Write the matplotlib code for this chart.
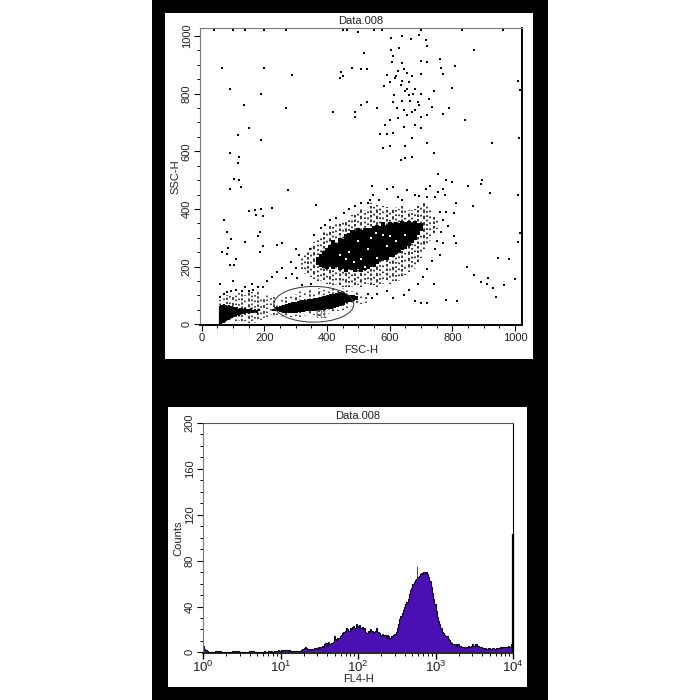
import matplotlib
matplotlib.use("Agg")
import numpy as np
import matplotlib.pyplot as plt
from matplotlib.patches import Rectangle, Ellipse
from matplotlib.ticker import MultipleLocator, LogLocator, NullFormatter

plt.rcParams['font.family'] = ['Liberation Sans', 'DejaVu Sans']
plt.rcParams['mathtext.fontset'] = 'custom'
plt.rcParams['mathtext.rm'] = 'Liberation Sans'

# dense parts of the dot plot, read as columns: x, low y, high y
core_x = [370, 380, 390, 400, 410, 420, 430, 440, 450, 460, 470, 480, 490, 500, 510, 520, 530, 540, 550, 560, 570, 580, 590, 600, 610, 620, 630, 640, 650, 660, 670, 680, 690, 700]
core_lo = [205, 198, 195, 192, 198, 192, 198, 188, 192, 182, 192, 188, 182, 192, 182, 188, 192, 198, 200, 208, 218, 222, 222, 232, 232, 242, 248, 258, 262, 272, 282, 292, 310, 325]
core_hi = [232, 245, 255, 265, 275, 292, 282, 300, 295, 312, 318, 328, 322, 332, 328, 332, 335, 332, 342, 345, 342, 355, 345, 355, 350, 355, 350, 358, 355, 358, 352, 358, 352, 350]

# speckled band round the main blob
mid_x = [320, 330, 340, 350, 360, 370, 380, 390, 400, 410, 420, 430, 440, 450, 460, 470, 480, 490, 500, 510, 520, 530, 540, 550, 560, 570, 580, 590, 600, 610, 620, 630, 640, 650, 660, 670, 680, 690, 700, 710, 720, 730, 740, 750]
mid_lo = [190, 175, 170, 165, 155, 150, 150, 145, 140, 140, 135, 135, 130, 130, 130, 130, 130, 130, 135, 130, 140, 140, 130, 135, 130, 140, 140, 145, 140, 150, 150, 150, 160, 170, 180, 200, 190, 210, 230, 260, 280, 290, 310, 330]
mid_hi = [235, 245, 255, 270, 285, 300, 310, 325, 330, 340, 345, 350, 355, 365, 365, 370, 380, 385, 395, 400, 395, 405, 420, 420, 415, 410, 410, 405, 400, 400, 405, 400, 410, 405, 395, 395, 400, 410, 420, 420, 410, 395, 380, 370]

low_x = [58, 62, 66, 70, 74, 78, 82, 86, 90, 94, 98, 102, 106, 110, 114, 118, 122, 128, 134, 140, 146, 152, 158, 164, 170, 176, 182]
low_lo = [2, 2, 3, 4, 8, 10, 14, 16, 18, 20, 22, 24, 28, 28, 30, 28, 30, 34, 36, 34, 38, 36, 40, 38, 42, 40, 44]
low_hi = [62, 66, 68, 70, 64, 68, 64, 66, 62, 60, 62, 58, 60, 55, 58, 54, 56, 56, 54, 56, 54, 52, 55, 50, 52, 50, 52]

tail_x = [60, 70, 80, 90, 100, 110, 120, 130, 140, 150, 160, 170, 180, 190, 200, 210, 220, 230]
tail_lo = [40, 50, 50, 50, 50, 10, 10, 5, 10, 5, 10, 5, 10, 15, 20, 25, 30, 25]
tail_hi = [85, 95, 100, 105, 100, 100, 110, 115, 100, 120, 110, 100, 110, 90, 95, 100, 90, 95]

r1_x = [232, 242, 252, 262, 272, 282, 292, 302, 312, 322, 332, 342, 352, 362, 372, 382, 392, 402, 412, 422, 432, 442, 452, 462, 472, 482, 492]
r1_lo = [46, 44, 42, 40, 38, 38, 40, 40, 42, 42, 44, 44, 46, 46, 48, 48, 50, 52, 54, 56, 60, 64, 68, 72, 76, 80, 84]
r1_hi = [54, 58, 62, 66, 70, 72, 76, 78, 82, 84, 84, 86, 88, 92, 92, 94, 96, 100, 104, 106, 108, 110, 108, 104, 102, 100, 98]

fringe_x = [240, 255, 270, 285, 300, 315, 330, 345, 360, 375, 390, 405, 420, 435, 450, 465, 480, 495, 510, 525]
fringe_lo = [30, 25, 25, 25, 28, 25, 28, 30, 30, 28, 32, 35, 40, 45, 50, 55, 60, 65, 70, 75]
fringe_hi = [70, 85, 95, 100, 105, 115, 110, 120, 115, 125, 120, 130, 125, 130, 125, 120, 115, 110, 105, 95]

top_pts = [(604, 992), (604, 951), (518, 942), (529, 884), (606, 911), (582, 826), (617, 853), (529, 772), (489, 720), (648, 808), (662, 842), (695, 760),
           (655, 872), (692, 1005), (668, 990), (720, 965), (715, 985), (630, 960), (610, 930), (640, 905), (625, 880), (645, 885), (590, 865), (700, 870),
           (600, 840), (635, 830), (660, 795), (675, 800), (615, 795), (640, 775), (665, 775), (690, 770), (622, 750), (645, 745), (672, 735), (700, 720), (735, 755),
           (770, 730), (790, 750), (720, 725), (655, 725), (625, 715), (600, 710), (585, 690), (600, 620), (580, 610), (590, 660), (612, 665), (650, 620), (672, 645),
           (645, 685), (680, 690), (700, 680), (720, 630), (635, 570), (650, 575), (670, 580), (740, 595), (570, 660), (490, 735), (510, 760), (450, 860), (440, 855), (445, 875),
           (510, 885), (480, 890), (420, 735), (560, 750), (770, 870), (765, 890), (808, 895), (800, 820), (870, 950), (1015, 812), (1010, 845), (840, 710), (1012, 645), (925, 630),
           (740, 810), (760, 920), (720, 910), (700, 915), (640, 1000), (500, 1015), (40, 1020), (100, 1020), (140, 1022), (200, 1022), (270, 1020), (450, 1020), (465, 1022), (700, 1021),
           (830, 1020), (960, 1021), (575, 1022), (550, 1021), (620, 860), (655, 815), (680, 815), (640, 845), (672, 860), (610, 770), (700, 800), (680, 745), (725, 780)]

side_pts = [(65, 888), (200, 888), (288, 865), (90, 815), (190, 800), (135, 760), (270, 752), (150, 680), (115, 655), (190, 640), (118, 580), (90, 595), (115, 560), (92, 470), (105, 505),
            (125, 475), (120, 500), (275, 465), (365, 415), (225, 402), (190, 400), (170, 395), (150, 392), (175, 378), (195, 375), (70, 360), (80, 320), (185, 320), (180, 305), (140, 285),
            (95, 295), (85, 265), (80, 245), (65, 250), (90, 205), (105, 205), (110, 225), (185, 250), (195, 270), (255, 280), (240, 275), (60, 140), (100, 150), (140, 130), (160, 140),
            (780, 500), (800, 495), (755, 520), (770, 470), (850, 480), (895, 500), (890, 485), (920, 455), (1010, 450), (780, 390), (805, 385), (810, 420), (865, 410), (1015, 315),
            (1010, 285), (805, 305), (810, 280), (845, 200), (945, 230), (980, 225), (1000, 155), (915, 160), (890, 145), (930, 125), (965, 135), (940, 95), (780, 85), (815, 80), (720, 75),
            (700, 72), (680, 80), (740, 140), (870, 170), (910, 140), (755, 460), (775, 450), (745, 440), (730, 480), (715, 470)]

halo_pts = [(538, 430), (545, 480), (548, 450), (590, 470), (610, 475), (625, 440), (640, 430), (655, 465), (680, 450), (695, 445), (720, 440), (760, 390), (770, 360), (785, 340), (765, 320),
            (750, 290), (770, 280), (745, 260), (760, 240), (735, 220), (720, 190), (705, 165), (690, 140), (660, 120), (645, 100), (610, 90), (590, 115), (560, 105), (545, 90), (530, 105),
            (300, 260), (285, 215), (300, 195), (290, 175), (270, 160), (255, 195), (240, 180), (225, 165), (210, 150), (195, 130), (305, 160), (320, 135), (350, 140), (345, 260), (310, 240),
            (360, 310), (380, 335), (395, 345), (410, 360), (430, 370), (455, 385), (470, 400), (490, 410), (510, 420), (530, 420), (565, 430), (165, 120), (180, 130), (150, 115), (130, 115),
            (110, 120), (95, 115), (80, 110), (70, 105), (60, 95)]

white_pts = [(470, 250), (500, 290), (530, 260), (560, 230), (590, 270), (620, 290), (650, 310), (540, 300), (460, 225), (580, 310), (510, 225), (440, 240), (600, 305), (520, 200), (485, 215), (555, 315)]

# histogram counts, one value per channel over the 4 decades
hist_counts = [6, 3, 2, 1, 0.5, 0, 0, 0, 0, 0, 1, 1, 0, 1, 1, 0,
               0, 0, 0, 0, 0, 0, 0, 0, 1, 1, 1, 0, 1, 1, 0, 0,
               0, 0, 0, 0, 0, 0, 1, 1, 1, 1, 0, 0, 0, 0, 0, 0,
               0, 0, 1, 0, 0, 0, 1, 0, 1, 0, 0, 1, 1, 1, 2, 1,
               2, 1, 2, 2, 2, 2, 1, 2, 1, 1, 1, 1, 1, 1, 1, 1,
               1, 2, 3, 4, 5, 4, 3, 3, 2, 3, 3, 3, 4, 4, 3, 5,
               4, 5, 6, 5, 7, 8, 6, 9, 7, 7, 8, 9, 14, 12, 11, 13,
               13, 14, 15, 17, 18, 19, 21, 20, 19, 21, 20, 22, 23, 21, 25, 23,
               22, 24, 21, 22, 20, 21, 18, 17, 19, 18, 20, 19, 17, 18, 19, 21,
               18, 17, 15, 14, 16, 15, 15, 13, 15, 14, 13, 14, 14, 15, 16, 18,
               21, 25, 29, 32, 34, 37, 40, 42, 44, 47, 51, 54, 56, 60, 61, 63,
               64, 66, 67, 68, 69, 68, 70, 69, 70, 68, 66, 62, 57, 52, 47, 42,
               36, 31, 27, 25, 21, 18, 17, 15, 14, 14, 12, 11, 9, 8, 7, 7,
               7, 6, 7, 6, 6, 5, 5, 5, 4, 5, 5, 6, 5, 6, 7, 6,
               6, 7, 6, 6, 5, 5, 4, 4, 3, 4, 3, 4, 4, 3, 3, 4,
               3, 3, 4, 4, 4, 5, 4, 5, 5, 5, 5, 5, 6, 5, 7, 5]
peak_spike = (583, 75)
end_spike = 103

W = H = 700.0

# uneven dashes so the speckle does not read as a grid
speckle = [(0, (1, 1.6)), (0.7, (1, 2.6)), (1.5, (1.5, 1.2)), (0.3, (1, 3.2)), (1.1, (2, 1.8))]


def fig_box(x0, y0, x1, y1):
    return [x0 / W, 1 - y1 / H, (x1 - x0) / W, (y1 - y0) / H]


fig = plt.figure(figsize=(7, 7), dpi=100, facecolor='white')
for box, col in [(fig_box(152, 0, 548, 700), 'black'), (fig_box(165, 13, 533, 359), 'white'), (fig_box(168, 407, 527, 687), 'white')]:
    fig.patches.append(Rectangle((box[0], box[1]), box[2], box[3], transform=fig.transFigure, facecolor=col, edgecolor='none', zorder=-5))

txt = '#222222'

# dot plot
ax = fig.add_axes(fig_box(200, 28, 522, 325))
ax.set_xlim(-5, 1022)
ax.set_ylim(-3, 1028)
ax.vlines(mid_x, mid_lo, mid_hi, color='#111111', linewidth=1.2, linestyles=speckle)
ax.vlines(tail_x, tail_lo, tail_hi, color='#111111', linewidth=1.1, linestyles=speckle)
ax.vlines(fringe_x, fringe_lo, fringe_hi, color='#111111', linewidth=1.1, linestyles=speckle)
ax.vlines(core_x, core_lo, core_hi, color='black', linewidth=2.9)
ax.vlines(low_x, low_lo, low_hi, color='black', linewidth=1.6)
ax.vlines(r1_x, r1_lo, r1_hi, color='black', linewidth=2.9)
for pts, s in [(top_pts, 1.3), (side_pts, 1.3), (halo_pts, 1.5)]:
    ax.scatter(*zip(*pts), s=s, marker='s', color='black', linewidths=0, clip_on=True)
ax.scatter(*zip(*white_pts), s=2.2, marker='s', color='white', linewidths=0, zorder=3)
ax.add_patch(Ellipse((358, 69), 255, 124, fill=False, edgecolor='#333333', linewidth=0.7, zorder=4))
ax.text(383, 30, 'R1', fontsize=7, color='#555555', ha='center', va='center', zorder=4)
ax.xaxis.set_major_locator(MultipleLocator(200))
ax.xaxis.set_minor_locator(MultipleLocator(50))
ax.yaxis.set_major_locator(MultipleLocator(200))
ax.yaxis.set_minor_locator(MultipleLocator(50))
ax.tick_params(axis='both', which='major', length=4, width=0.8, labelsize=8, labelcolor=txt, pad=2)
ax.tick_params(axis='both', which='minor', length=2.2, width=0.7)
for lab in ax.get_yticklabels():
    lab.set_rotation(90)
    lab.set_va('center')
ax.set_xlabel('FSC-H', fontsize=8, color=txt, labelpad=1)
ax.set_ylabel('SSC-H', fontsize=8, color=txt, labelpad=1)
ax.set_title('Data.008', fontsize=8, color=txt, pad=3)
ax.spines['left'].set_color('#777777')
ax.spines['top'].set_color('#777777')
ax.spines['right'].set_linewidth(1.4)
ax.spines['bottom'].set_linewidth(1.4)

# histogram
ax2 = fig.add_axes(fig_box(203, 423, 513, 653))
edges = 10 ** np.linspace(0, 4, len(hist_counts) + 1)
ax2.set_xscale('log')
ax2.set_xlim(1, 10000)
ax2.set_ylim(-0.5, 200)
ax2.stairs(hist_counts, edges, fill=True, color='#4b10b4', linewidth=0)
ax2.stairs(hist_counts, edges, fill=False, color='#120630', linewidth=0.8)
ax2.vlines(peak_spike[0], 60, peak_spike[1], color='#333333', linewidth=0.6)
ax2.vlines(10000, 0, end_spike, color='black', linewidth=1.6, clip_on=False)
ax2.xaxis.set_major_locator(LogLocator(base=10, numticks=5))
ax2.xaxis.set_minor_locator(LogLocator(base=10, subs=range(2, 10), numticks=5))
ax2.xaxis.set_minor_formatter(NullFormatter())
ax2.yaxis.set_major_locator(MultipleLocator(40))
ax2.yaxis.set_minor_locator(MultipleLocator(10))
ax2.tick_params(axis='x', which='major', length=4, width=1.0, labelsize=9.5, labelcolor=txt, pad=1)
ax2.tick_params(axis='y', which='major', length=4, width=0.8, labelsize=8, labelcolor=txt, pad=2)
ax2.tick_params(axis='both', which='minor', length=2.2, width=0.7)
for lab in ax2.get_yticklabels():
    lab.set_rotation(90)
    lab.set_va('center')
ax2.set_xlabel('FL4-H', fontsize=8, color=txt, labelpad=-1)
ax2.set_ylabel('Counts', fontsize=8, color=txt, labelpad=1)
ax2.set_title('Data.008', fontsize=8, color=txt, pad=3)
ax2.spines['left'].set_color('#777777')
ax2.spines['top'].set_color('#555555')
ax2.spines['right'].set_linewidth(0.8)
ax2.spines['bottom'].set_linewidth(1.2)

plt.savefig('out.png', dpi=100, facecolor='white')
